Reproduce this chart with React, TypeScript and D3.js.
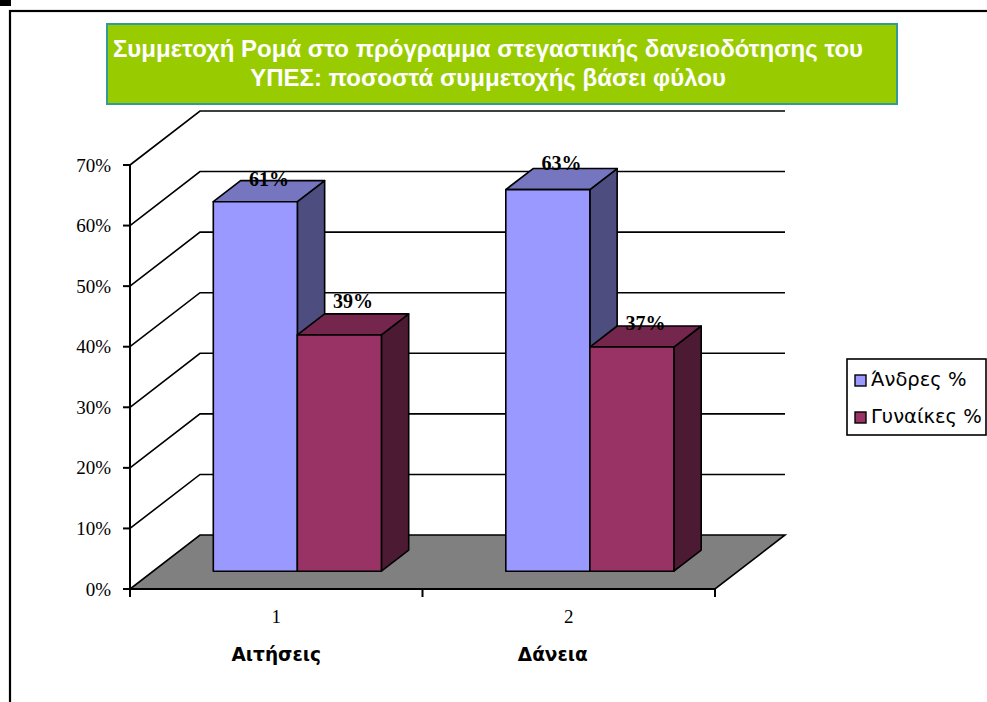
import React from "react";
import * as d3 from "d3";

const categories = ["1", "2"];
const categoryTitles = ["Αιτήσεις", "Δάνεια"];
const seriesNames = ["Άνδρες %", "Γυναίκες %"];
const andres = [0.61, 0.63];
const gynaikes = [0.39, 0.37];
const yTicks = [0, 0.1, 0.2, 0.3, 0.4, 0.5, 0.6, 0.7];
const titleLines = [
  "Συμμετοχή Ρομά στο πρόγραμμα στεγαστικής δανειοδότησης του",
  "ΥΠΕΣ: ποσοστά συμμετοχής βάσει φύλου",
];

const seriesColors = [
  { front: "#9999FF", top: "#7676C0", side: "#4D4D80" },
  { front: "#993366", top: "#74264D", side: "#4D1A33" },
];

const SANS = "'DejaVu Sans', Verdana, sans-serif";
const ARIAL = "'Liberation Sans', Arial, sans-serif";
const SERIF = "'Liberation Serif', 'Times New Roman', serif";

export default function App() {
  const W = 987, H = 702;
  const x0 = 130, x1 = 715;
  const y = d3.scaleLinear().domain([0, 0.7]).range([589, 165]);
  const DX = 70, DY = -54; // full depth offset
  const xBand = d3.scaleBand<string>().domain(categories).range([x0, x1]).padding(0);
  const inner = d3
    .scaleBand<string>()
    .domain(seriesNames)
    .range([-2, xBand.bandwidth() - 2])
    .paddingInner(0)
    .paddingOuter(0.74);
  const f1 = 0.33, f2 = 0.72;
  const values = [andres, gynaikes];

  const pts = (a: [number, number][]) => a.map((p) => p.join(",")).join(" ");

  const bars: JSX.Element[] = [];
  const labels: JSX.Element[] = [];
  const labelDy = [
    [5, 1],
    [-6, 4],
  ];
  categories.forEach((c, ci) => {
    seriesNames.forEach((s, si) => {
      const v = values[si][ci];
      const bx0 = (xBand(c) as number) + (inner(s) as number) + f1 * DX;
      const bx1 = bx0 + inner.bandwidth();
      const yb = y(0) + f1 * DY;
      const yt = y(v) + f1 * DY;
      const ddx = (f2 - f1) * DX, ddy = (f2 - f1) * DY;
      const col = seriesColors[si];
      bars.push(
        <g key={`${c}-${s}`} stroke="#000" strokeWidth={1.6} strokeLinejoin="round">
          <polygon
            points={pts([[bx1, yb], [bx1 + ddx, yb + ddy], [bx1 + ddx, yt + ddy], [bx1, yt]])}
            fill={col.side}
          />
          <polygon
            points={pts([[bx0, yt], [bx1, yt], [bx1 + ddx, yt + ddy], [bx0 + ddx, yt + ddy]])}
            fill={col.top}
          />
          <rect x={bx0} y={yt} width={bx1 - bx0} height={yb - yt} fill={col.front} />
        </g>
      );
      labels.push(
        <text
          key={`l-${c}-${s}`}
          x={(bx0 + bx1 + ddx) / 2}
          y={yt + ddy + labelDy[si][ci]}
          textAnchor="middle"
          fontFamily={SERIF}
          fontWeight="bold"
          fontSize={20}
          fill="#000"
        >
          {d3.format(".0%")(v)}
        </text>
      );
    });
  });

  return (
    <svg
      width={W}
      height={H}
      style={{ position: "absolute", left: 0, top: 0, background: "#fff" }}
    >
      <rect x={0} y={0} width={11} height={6} fill="#000" />
      <rect x={10} y={11} width={1100} height={1100} fill="none" stroke="#000" strokeWidth={2.2} />

      {/* title */}
      <rect x={107} y={24} width={790} height={80} fill="#99CC00" stroke="#339999" strokeWidth={2} />
      {titleLines.map((t, i) => (
        <text
          key={i}
          x={488}
          y={57 + i * 29}
          textAnchor="middle"
          fontFamily={ARIAL}
          fontWeight="bold"
          fontSize={24}
          fill="#fff"
        >
          {t}
        </text>
      ))}

      {/* gridlines */}
      <g stroke="#000" strokeWidth={1.6} fill="none">
        {yTicks.slice(1).map((t) => (
          <polyline
            key={t}
            points={pts([[x0, y(t)], [x0 + DX, y(t) + DY], [x1 + DX, y(t) + DY]])}
          />
        ))}
      </g>

      {/* floor */}
      <polygon
        points={pts([[x0, y(0)], [x1, y(0)], [x1 + DX, y(0) + DY], [x0 + DX, y(0) + DY]])}
        fill="#808080"
        stroke="#000"
        strokeWidth={1.6}
      />

      {/* y axis */}
      <line x1={x0} x2={x0} y1={y(0.7)} y2={y(0)} stroke="#000" strokeWidth={2} />
      <line x1={x0} x2={x1} y1={y(0)} y2={y(0)} stroke="#000" strokeWidth={2.2} />
      {yTicks.map((t) => (
        <g key={t}>
          <line x1={x0 - 7} x2={x0} y1={y(t)} y2={y(t)} stroke="#000" strokeWidth={2} />
          <text
            x={x0 - 19}
            y={y(t) + 6.5}
            textAnchor="end"
            fontFamily={SERIF}
            fontSize={19}
            fill="#000"
          >
            {d3.format(".0%")(t)}
          </text>
        </g>
      ))}
      {[x0, ...categories.map((c) => (xBand(c) as number) + xBand.bandwidth())].map((xx, i) => (
        <line key={i} x1={xx} x2={xx} y1={y(0)} y2={y(0) + 8} stroke="#000" strokeWidth={2} />
      ))}
      {categories.map((c) => (
        <text
          key={c}
          x={(xBand(c) as number) + xBand.bandwidth() / 2}
          y={623}
          textAnchor="middle"
          fontFamily={SERIF}
          fontSize={19}
          fill="#000"
        >
          {c}
        </text>
      ))}
      {categoryTitles.map((t, i) => (
        <text
          key={t}
          x={(xBand(categories[i]) as number) + xBand.bandwidth() / 2 - i * 16}
          y={661}
          textAnchor="middle"
          fontFamily={SANS}
          fontWeight="bold"
          fontSize={18.5}
          fill="#000"
        >
          {t}
        </text>
      ))}

      {bars}
      {labels}

      {/* legend */}
      <rect x={847} y={359} width={139} height={76} fill="#fff" stroke="#000" strokeWidth={1.6} />
      {seriesNames.map((s, i) => (
        <g key={s}>
          <rect
            x={855}
            y={375 + i * 37}
            width={11}
            height={11}
            fill={seriesColors[i].front}
            stroke="#000"
            strokeWidth={1.4}
          />
          <text x={871} y={386 + i * 37} fontFamily={SANS} fontSize={19.5} fill="#000">
            {s}
          </text>
        </g>
      ))}
    </svg>
  );
}
